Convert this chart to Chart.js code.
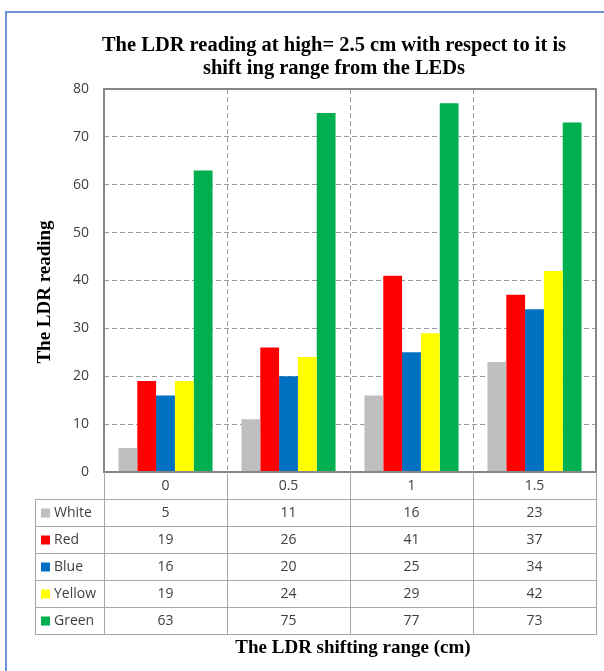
<!DOCTYPE html>
<html>
<head>
<meta charset="utf-8">
<script src="https://cdn.jsdelivr.net/npm/chart.js@4"></script>
<style>
    html, body { margin: 0; padding: 0; background: #fff; }
    #wrap { position: relative; width: 604px; height: 671px; }
    #frame { position: absolute; left: 5px; top: 11px; right: 0; bottom: 0; border-left: 2px solid #6b94d6; border-top: 2px solid #6b94d6; }
    canvas { position: absolute; left: 0; top: 0; }
</style>
</head>
<body>
<div id="wrap">
    <div id="frame"></div>
    <canvas id="ldrChart" width="604" height="671"></canvas>
</div>
<script>
// Chart data
const categories = ['0', '0.5', '1', '1.5'];
const seriesNames = ['White', 'Red', 'Blue', 'Yellow', 'Green'];
const whiteValues = [5, 11, 16, 23];
const redValues = [19, 26, 41, 37];
const blueValues = [16, 20, 25, 34];
const yellowValues = [19, 24, 29, 42];
const greenValues = [63, 75, 77, 73];
const yTicks = [0, 10, 20, 30, 40, 50, 60, 70, 80];

const seriesColors = ['#bfbfbf', '#ff0000', '#0070c0', '#ffff00', '#00b050'];
const allValues = [whiteValues, redValues, blueValues, yellowValues, greenValues];

const titleLines = ['The LDR reading at high= 2.5 cm with respect to it is', 'shift ing range from the LEDs'];
const yTitle = 'The LDR reading';
const xTitle = 'The LDR shifting range (cm)';

const ROW_H = 27;
const TABLE_LEFT = 35;
const LABEL_FONT = '14px "Open Sans"';
const SERIF_BOLD = '"Liberation Serif", "Times New Roman", serif';

// Frame, data table and titles
const decorPlugin = {
    id: 'decor',
    afterDraw(chart) {
        const ctx = chart.ctx;
        const area = chart.chartArea;
        const x = chart.scales.x;
        const half = (x.getPixelForValue(1) - x.getPixelForValue(0)) / 2;

        ctx.save();

        // plot border
        ctx.strokeStyle = '#878787';
        ctx.lineWidth = 2;
        ctx.strokeRect(area.left, area.top, area.right - area.left, area.bottom - area.top);

        // table grid
        const tTop = area.bottom;
        const hdrBottom = tTop + ROW_H;
        const tBottom = hdrBottom + ROW_H * seriesNames.length;
        ctx.strokeStyle = '#a8a8a8';
        ctx.lineWidth = 1;
        ctx.beginPath();
        for (let r = 0; r <= seriesNames.length; r++) {
            const y = Math.round(hdrBottom + r * ROW_H) + 0.5;
            ctx.moveTo(TABLE_LEFT, y);
            ctx.lineTo(area.right + 1, y);
        }
        ctx.moveTo(TABLE_LEFT + 0.5, hdrBottom);
        ctx.lineTo(TABLE_LEFT + 0.5, tBottom);
        for (let i = 0; i <= categories.length; i++) {
            const bx = i < categories.length ? x.getPixelForValue(i) - half : x.getPixelForValue(i - 1) + half;
            ctx.moveTo(Math.round(bx) + 0.5, tTop);
            ctx.lineTo(Math.round(bx) + 0.5, tBottom);
        }
        ctx.stroke();

        // header row + values
        ctx.fillStyle = '#404040';
        ctx.font = LABEL_FONT;
        ctx.textAlign = 'center';
        ctx.textBaseline = 'middle';
        categories.forEach((c, i) => {
            ctx.fillText(c, x.getPixelForValue(i), tTop + ROW_H / 2 + 1);
        });
        allValues.forEach((vals, r) => {
            const cy = hdrBottom + r * ROW_H + ROW_H / 2 + 1;
            vals.forEach((v, i) => ctx.fillText(String(v), x.getPixelForValue(i), cy));
            // legend key
            ctx.fillStyle = seriesColors[r];
            ctx.fillRect(TABLE_LEFT + 6, cy - 5, 9, 9);
            ctx.fillStyle = '#404040';
            ctx.textAlign = 'left';
            ctx.fillText(seriesNames[r], TABLE_LEFT + 19, cy);
            ctx.textAlign = 'center';
        });

        // titles
        ctx.fillStyle = '#000';
        ctx.textBaseline = 'alphabetic';
        ctx.font = 'bold 20.5px ' + SERIF_BOLD;
        ctx.fillText(titleLines[0], 334, 51);
        ctx.fillText(titleLines[1], 334, 74);

        ctx.font = 'bold 19px ' + SERIF_BOLD;
        ctx.fillText(xTitle, 353, 653);

        ctx.translate(45, 292);
        ctx.rotate(-Math.PI / 2);
        ctx.textBaseline = 'middle';
        ctx.fillText(yTitle, 0, 0);

        ctx.restore();
    }
};

const datasets = seriesNames.map((name, i) => ({
    label: name,
    data: allValues[i],
    backgroundColor: seriesColors[i],
    borderWidth: 0,
    categoryPercentage: 0.765,
    barPercentage: 1.0
}));

new Chart(document.getElementById('ldrChart'), {
    type: 'bar',
    data: { labels: categories, datasets: datasets },
    options: {
        responsive: false,
        animation: false,
        layout: { padding: { left: 0, top: 89, right: 8, bottom: 199 } },
        plugins: {
            legend: { display: false },
            title: { display: false },
            tooltip: { enabled: false }
        },
        scales: {
            x: {
                ticks: { display: false },
                grid: { color: '#9a9a9a', lineWidth: 1, drawTicks: false, offset: true },
                border: { display: false, dash: [5, 3] },
                afterFit: s => { s.height = 0; }
            },
            y: {
                min: 0,
                max: 80,
                afterBuildTicks: s => { s.ticks = yTicks.map(v => ({ value: v })); },
                ticks: { color: '#404040', font: { family: 'Open Sans', size: 14 }, padding: 15 },
                grid: { color: '#9a9a9a', lineWidth: 1, drawTicks: false },
                border: { display: false, dash: [5, 3] },
                afterFit: s => { s.width = 104; }
            }
        }
    },
    plugins: [decorPlugin]
});
</script>
</body>
</html>
